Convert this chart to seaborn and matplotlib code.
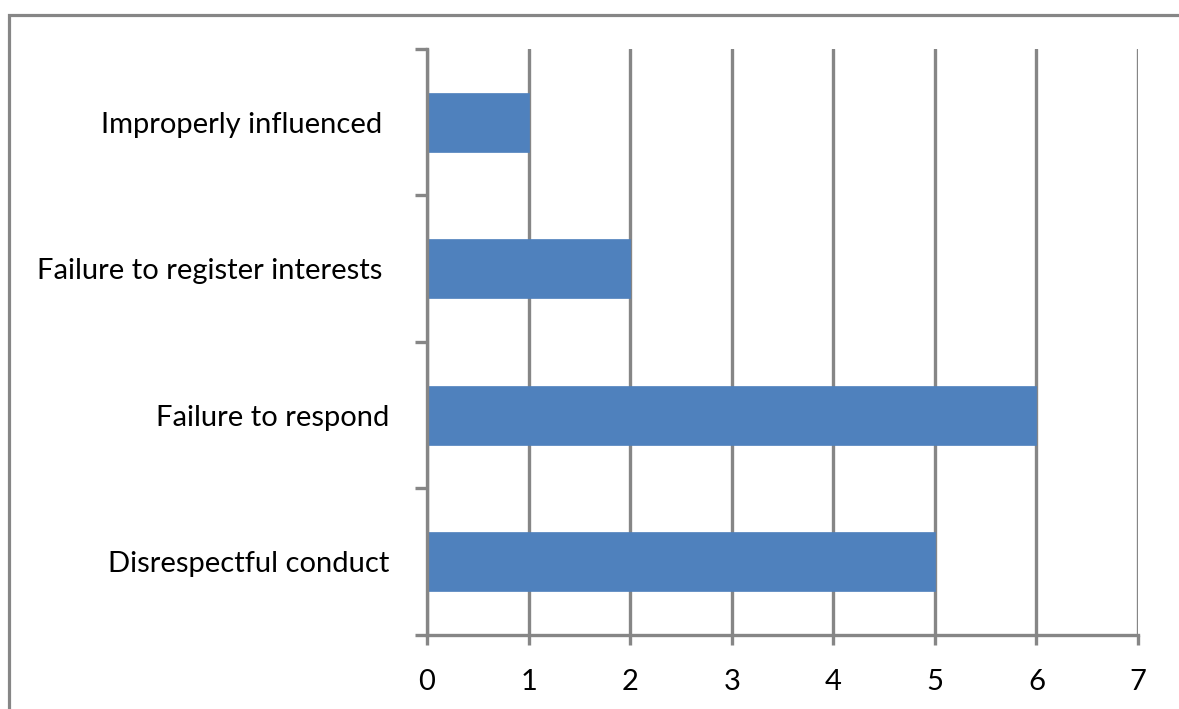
import matplotlib
matplotlib.use("Agg")
import matplotlib.pyplot as plt
import seaborn as sns
import pandas as pd
from matplotlib.patches import Rectangle
from matplotlib.ticker import FixedLocator

categories = ["Improperly influenced ", "Failure to register interests ", "Failure to respond", "Disrespectful conduct"]
values = [1, 2, 6, 5]
x_ticks = [0, 1, 2, 3, 4, 5, 6, 7]

sns.set_theme(style="white")
plt.rcParams['font.family'] = ['Lato', 'DejaVu Sans']

GRAY = "#868686"
BLUE = "#4F81BD"
W, H = 1179, 709

fig = plt.figure(figsize=(W / 100, H / 100), dpi=100)
fig.patch.set_facecolor("white")
ax = fig.add_axes([427 / W, (H - 635) / H, (1138 - 427) / W, (635 - 49) / H])

df = pd.DataFrame({"category": categories, "value": values})
sns.barplot(data=df, x="value", y="category", orient="h", color=BLUE,
            width=0.4, saturation=1, ax=ax, zorder=3, edgecolor=BLUE, linewidth=0.5)

ax.set_xlim(0, 7)
ax.set_ylim(len(categories) - 0.5, -0.5)
ax.set_xlabel("")
ax.set_ylabel("")

# gridlines
ax.xaxis.set_major_locator(FixedLocator(x_ticks))
ax.grid(axis="x", color=GRAY, linewidth=2.4, zorder=1)
ax.grid(axis="y", visible=False)
ax.set_axisbelow(True)

for side in ["top", "right"]:
    ax.spines[side].set_visible(False)
for side in ["left", "bottom"]:
    ax.spines[side].set_color(GRAY)
    ax.spines[side].set_linewidth(2.4)
    ax.spines[side].set_zorder(4)

ax.tick_params(axis="x", which="major", direction="out", length=7.5, width=2.4,
               color=GRAY, labelsize=21, labelcolor="black", pad=17, bottom=True)

# y: major ticks at band boundaries, labels on minor ticks at centers
ax.yaxis.set_major_locator(FixedLocator([i - 0.5 for i in range(len(categories) + 1)]))
ax.yaxis.set_major_formatter(plt.NullFormatter())
ax.yaxis.set_minor_locator(FixedLocator(list(range(len(categories)))))
ax.set_yticklabels(categories, minor=True)
ax.tick_params(axis="y", which="major", direction="out", length=8.5, width=2.4,
               color=GRAY, left=True)
ax.tick_params(axis="y", which="minor", length=0, labelsize=21, labelcolor="black", pad=27)
for lbl in ax.get_yticklabels(minor=True):
    lbl.set_y(lbl.get_position()[1])

# outer chart border
fig.patches.append(Rectangle((9 / W, -0.2), 1.5, 1 - 15 / H + 0.2, transform=fig.transFigure,
                             fill=False, edgecolor=GRAY, linewidth=2.3, zorder=0))

fig.savefig("out.png", dpi=100, facecolor="white")
